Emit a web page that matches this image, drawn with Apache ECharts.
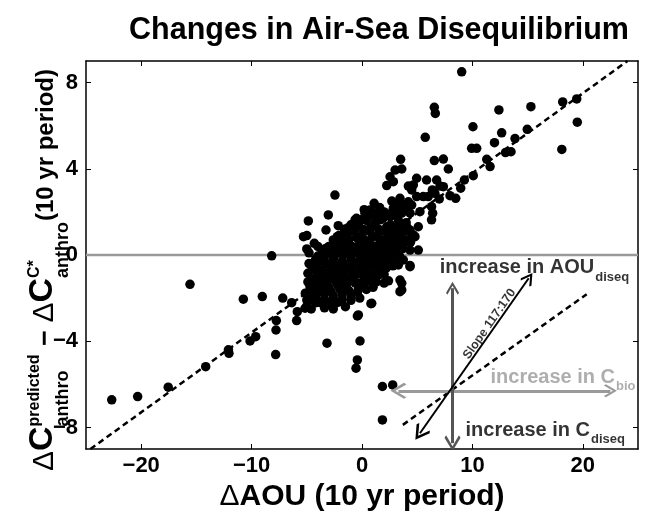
<!DOCTYPE html>
<html>
<head>
<meta charset="utf-8">
<script src="https://cdn.jsdelivr.net/npm/echarts@6/dist/echarts.min.js"></script>
<style>
  html, body { margin: 0; padding: 0; background: #fff; }
  #chart { width: 645px; height: 513px; }
</style>
</head>
<body>
<div id="chart"></div>
<script>
const FONT = '"Liberation Sans", Arial, Helvetica, sans-serif';

// axis ranges and tick labels
const xRange = [-25, 25];
const yRange = [-9, 9];
const xTicks = [-20, -10, 0, 10, 20];
const yTicks = [-8, -4, 0, 4, 8];

// profiles away from the central cloud: [ΔAOU, ΔC_pred − ΔC*]
const outerPoints = [
  [9.03, 8.50], [6.55, 6.85], [6.64, 6.57], [19.45, 7.24], [18.18, 7.10], [15.3, 6.88], [12.4, 6.73],
  [19.5, 6.16], [18.1, 4.9], [10.05, 5.95], [5.73, 5.46], [14.97, 5.83], [12.65, 5.67], [13.86, 5.40],
  [12.0, 5.21], [9.93, 4.95], [10.39, 4.95], [13.5, 4.79], [13.0, 4.75], [11.3, 4.44], [11.6, 4.10],
  [7.37, 4.45], [6.55, 4.38], [7.82, 3.99], [3.5, 4.44], [3.6, 3.99], [3.0, 3.94], [2.54, 3.63],
  [2.84, 3.40], [2.24, 3.22], [10.08, 3.68], [9.27, 3.48], [8.94, 3.1], [8.49, 2.63], [7.97, 2.75],
  [7.0, 2.6], [4.95, 3.56], [5.85, 3.48], [6.76, 3.48], [7.07, 3.2], [4.2, 3.2], [4.65, 3.25],
  [4.5, 3.02], [6.37, 3.02], [7.37, 3.17], [6.6, 2.86], [4.95, 2.71], [5.55, 2.71], [6.0, 2.71],
  [6.3, 2.24], [6.4, 1.94], [6.3, 1.63], [4.5, 2.32], [4.2, 2.47], [3.44, 2.63], [3.9, 2.24],
  [3.6, 1.94], [5.25, 2.01], [5.1, 1.31], [4.65, 0.93], [4.2, 0.7], [5.1, 0.23], [2.84, 2.17],
  [2.54, 1.78], [2.24, 1.31], [3.0, 1.0], [1.63, 1.63], [1.33, 1.94], [0.72, 2.09], [0.27, 1.94],
  [-0.18, 1.63], [-0.63, 1.63], [-2.45, 2.78], [-3.05, 1.86], [-2.15, 1.36], [-3.26, 1.16],
  [-2.24, 0.85], [-4.86, 1.58], [-5.3, 0.85], [-5.0, 0.9], [-4.32, 0.54], [-1.24, 0.62], [-5.0, 0.28],
  [-8.18, -0.04], [-15.58, -1.36], [-22.67, -6.72], [-20.32, -6.57], [-17.55, -6.13], [-14.16, -5.18],
  [-12.1, -4.4], [-12.05, -4.56], [-10.14, -3.99], [-9.63, -3.79], [-7.82, -4.62], [-7.79, -3.48],
  [-7.76, -3.04], [-5.92, -3.04], [-5.86, -2.63], [-10.75, -2.05], [-9.03, -1.93], [-7.18, -2.0],
  [-6.37, -2.21], [-5.0, -2.4], [-5.0, -2.09], [-5.13, -1.77], [-4.71, -1.47], [-4.41, -1.31],
  [-4.08, -1.77], [-4.05, -2.19], [-4.17, -2.21], [-3.17, -4.09], [-0.42, -2.83], [-0.18, -3.99],
  [-0.42, -4.87], [-0.54, -5.25], [0.81, -2.26], [1.85, -6.1], [2.78, -6.03], [1.85, -7.65],
  [3.44, -1.7], [3.6, -1.31], [4.35, -0.49], [3.29, -0.46], [3.74, -0.23], [2.84, -0.08],
  [2.24, -0.08], [1.93, -0.23], [4.35, 0.23], [3.44, 2.4], [4.05, 2.24], [4.35, 1.94], [4.05, 1.31],
  [4.35, 1.16], [4.8, 0.85], [3.44, -1.16], [3.6, -1.62], [4.35, -0.54], [0.88, -2.24], [-0.33, -2.78],
  [-5.0, -1.77], [-5.16, -2.47], [-4.71, -2.09]
];

// the dense cloud of profiles near the origin
const corePoints = [
  [0.2, 2.1], [0.9, 2.0], [1.6, 2.2], [2.3, 1.9], [3.1, 2.2], [2.7, 2.5], [1.1, 2.4], [-0.5, 1.7],
  [-1.0, 1.4], [-0.3, 1.5], [0.4, 1.6], [1.2, 1.5], [1.9, 1.7], [2.6, 1.4], [3.3, 1.6], [4.0, 1.5], [-1.6, 1.2],
  [-2.1, 0.9], [-1.4, 1.0], [-0.7, 1.1], [0.0, 0.9], [0.7, 1.1], [1.4, 0.9], [2.1, 1.1], [2.8, 1.0], [3.5, 0.9], [4.2, 1.1],
  [-3.0, 0.4], [-2.3, 0.5], [-1.6, 0.6], [-0.9, 0.4], [-0.2, 0.6], [0.5, 0.5], [1.2, 0.4], [1.9, 0.6], [2.6, 0.5], [3.3, 0.4], [3.9, 0.6],
  [-3.6, 0.1], [-2.8, 0.2], [-2.0, 0.1], [-1.2, 0.2], [-0.5, 0.1], [0.3, 0.2], [1.0, 0.2], [1.7, 0.1], [2.4, 0.2], [3.1, 0.1], [3.7, 0.3],
  [-4.2, -0.2], [-3.4, -0.3], [-2.6, -0.2], [-1.8, -0.3], [-1.0, -0.2], [-0.3, -0.3], [0.4, -0.2], [1.1, -0.3], [1.8, -0.2], [2.5, -0.3], [3.0, -0.1],
  [-4.5, -0.6], [-3.7, -0.7], [-2.9, -0.6], [-2.1, -0.7], [-1.3, -0.6], [-0.6, -0.7], [0.1, -0.6], [0.8, -0.5], [1.5, -0.7], [2.2, -0.6],
  [-4.4, -1.1], [-3.6, -1.0], [-2.8, -1.1], [-2.0, -1.0], [-1.2, -1.1], [-0.5, -0.9], [0.2, -1.0], [0.9, -1.1], [1.6, -0.9], [2.4, -1.2],
  [-4.6, -1.5], [-3.8, -1.4], [-3.0, -1.5], [-2.2, -1.4], [-1.4, -1.5], [-0.6, -1.3], [0.1, -1.4], [1.0, -1.5],
  [-4.2, -1.9], [-3.4, -1.8], [-2.6, -1.9], [-1.8, -1.8], [-1.0, -1.9], [-0.4, -1.7],
  [-3.8, -2.2], [-3.0, -2.3], [-2.2, -2.2], [-1.5, -2.4],
  [0.6, 1.8], [1.3, 1.75], [2.0, 2.0], [2.9, 1.85], [3.6, 2.05],
  [-1.3, 1.25], [-0.6, 1.3], [0.1, 1.2], [0.8, 1.3], [1.5, 1.2], [2.3, 1.3], [3.0, 1.25], [3.7, 1.2],
  [-2.6, 0.7], [-1.9, 0.8], [-1.2, 0.75], [-0.5, 0.8], [0.2, 0.7], [0.9, 0.8], [1.6, 0.75], [2.3, 0.8], [3.0, 0.7], [3.7, 0.75], [4.4, 0.6],
  [-4.0, 0.4], [-3.3, 0.3], [-2.6, 0.35], [-1.9, 0.3], [-1.2, 0.4], [-0.5, 0.35], [0.2, 0.3], [0.9, 0.4], [1.6, 0.3], [2.3, 0.4], [3.0, 0.35], [3.6, 0.5],
  [-4.8, 0.1], [-4.0, -0.05], [-3.3, 0.0], [-2.5, -0.05], [-1.7, 0.0], [-1.0, -0.05], [-0.2, 0.0], [0.6, -0.05], [1.4, 0.0], [2.1, -0.05], [2.8, 0.0], [3.4, -0.05],
  [-4.8, -0.4], [-4.1, -0.45], [-3.3, -0.4], [-2.5, -0.45], [-1.7, -0.4], [-0.9, -0.45], [-0.1, -0.4], [0.7, -0.4], [1.4, -0.45], [2.0, -0.4], [2.8, -0.5],
  [-4.9, -0.85], [-4.1, -0.8], [-3.3, -0.85], [-2.5, -0.8], [-1.7, -0.85], [-0.9, -0.8], [-0.1, -0.85], [0.6, -0.8], [1.3, -0.85], [2.0, -0.9],
  [-4.9, -1.25], [-4.0, -1.2], [-3.2, -1.3], [-2.4, -1.2], [-1.6, -1.3], [-0.9, -1.2], [-0.2, -1.3], [0.5, -1.2], [1.3, -1.25], [2.0, -1.3],
  [-4.4, -1.65], [-3.6, -1.6], [-2.8, -1.7], [-2.0, -1.6], [-1.2, -1.65], [-0.3, -1.55], [0.4, -1.6],
  [-4.5, -2.0], [-3.4, -2.05], [-2.6, -2.1], [-1.8, -2.05], [-1.0, -2.1], [-0.2, -2.0],
  [-4.6, -2.5], [-3.4, -2.45], [-2.6, -2.5]
];

// regression line and reference lines
const fitLine = [[-24.6, -9.0], [24.05, 9.0]];
const zeroLine = [[-25, 0], [25, 0]];
const diseqLine = [[3.7, -7.88], [20.35, -1.82]];

// process vectors
const aouArrow = [[5.25, -8.27], [15.1, -1.08]];
const cDiseqArrow = [[8.2, -8.73], [8.2, -1.54]];
const cBioArrow = [[3.3, -6.3], [22.5, -6.3]];

// annotation anchors
const aouLabelAt = [7.0, -0.6];
const bioLabelAt = [11.6, -5.7];
const diseqLabelAt = [9.33, -8.16];
const slopeLabelAt = [11.55, -3.2];

const minus = v => String(v).replace('-', '\u2212');
const chevron = 'path://M0,0 L10,11 L8,13 L0,4 L-8,13 L-10,11 Z';

const chart = echarts.init(document.getElementById('chart'), null, { renderer: 'canvas' });

// y axis title, built from pieces so sub/superscripts can stack
const measureCtx = document.createElement('canvas').getContext('2d');
const textWidth = (font, s) => { measureCtx.font = font; return measureCtx.measureText(s).width; };
const deltaFont = `30px ${FONT}`;
const capFont = `bold 34px ${FONT}`;
const dashFont = `bold 27px ${FONT}`;
const unitFont = `bold 24px ${FONT}`;
const supFont = `bold 16px ${FONT}`;
const subFont = `bold 18px ${FONT}`;
const sizeOf = font => parseFloat(font.match(/(\d+(\.\d+)?)px/)[1]);
const yTitle = [];
let cursor = 0;
// baseline is measured across the rotated text: negative = towards the top of the glyphs
function put(text, font, baseline, advance) {
  yTitle.push({
    type: 'text', x: cursor, y: baseline - 0.35 * sizeOf(font),
    style: { text, font, fill: '#000', align: 'left', verticalAlign: 'middle', textAlign: 'left', textVerticalAlign: 'middle' }
  });
  if (advance) cursor += textWidth(font, text);
}
function stack(sup, sub) {
  const start = cursor;
  put(sup, supFont, -15, false);
  put(sub, subFont, 14, false);
  cursor = start + Math.max(textWidth(supFont, sup), textWidth(subFont, sub)) + 1;
}
put('\u0394', deltaFont, 0, true);
put('C', capFont, 0, true);
stack('predicted', 'anthro');
put(' \u2212 ', dashFont, 0, true);
put('\u0394', deltaFont, 0, true);
put('C', capFont, 0, true);
stack('C*', 'anthro');
put('(10 yr period)', unitFont, 0, true);

function textPoint(at, formatter, rich, extra) {
  return {
    type: 'scatter', data: [at], symbolSize: 1, z: 6, silent: true,
    itemStyle: { color: 'rgba(0,0,0,0)' },
    emphasis: { disabled: true },
    label: Object.assign({ show: true, position: 'right', distance: 0, formatter, rich }, extra || {})
  };
}

const mainStyle = (color) => ({ fontSize: 20, fontWeight: 'bold', fontFamily: FONT, color });
const subStyle = (color) => ({ fontSize: 13, fontWeight: 'bold', fontFamily: FONT, color, padding: [18, 0, 0, 1] });

const axisCommon = {
  type: 'value',
  axisLine: { show: true, onZero: false, lineStyle: { color: '#000', width: 1.5 } },
  splitLine: { show: false }
};

const option = {
  animation: false,
  backgroundColor: '#fff',
  grid: { left: 86, top: 61, width: 552, height: 388, containLabel: false, outerBoundsMode: 'none' },
  xAxis: [
    Object.assign({}, axisCommon, {
      min: xRange[0], max: xRange[1], position: 'bottom',
      axisTick: { show: true, inside: true, length: 5, customValues: xTicks, lineStyle: { color: '#000', width: 1 } },
      axisLabel: { customValues: xTicks, formatter: minus, fontSize: 22, fontWeight: 'bold', fontFamily: FONT, color: '#000', margin: 6 },
      name: '{d|\u0394}{b|AOU (10 yr period)}',
      nameLocation: 'middle', nameGap: 17,
      nameTextStyle: {
        rich: {
          d: { fontSize: 30, fontFamily: FONT, color: '#000' },
          b: { fontSize: 30, fontWeight: 'bold', fontFamily: FONT, color: '#000' }
        }
      }
    }),
    Object.assign({}, axisCommon, {
      min: xRange[0], max: xRange[1], position: 'top',
      axisTick: { show: true, inside: true, length: 5, customValues: xTicks, lineStyle: { color: '#000', width: 1 } },
      axisLabel: { show: false }
    })
  ],
  yAxis: [
    Object.assign({}, axisCommon, {
      min: yRange[0], max: yRange[1], position: 'left',
      axisTick: { show: true, inside: true, length: 5, customValues: yTicks, lineStyle: { color: '#000', width: 1 } },
      axisLabel: { customValues: yTicks, formatter: minus, fontSize: 22, fontWeight: 'bold', fontFamily: FONT, color: '#000', margin: 8 }
    }),
    Object.assign({}, axisCommon, {
      min: yRange[0], max: yRange[1], position: 'right',
      axisTick: { show: true, inside: true, length: 5, customValues: yTicks, lineStyle: { color: '#000', width: 1 } },
      axisLabel: { show: false }
    })
  ],
  graphic: [
    {
      type: 'text', x: 379, y: 31, z: 10,
      style: { text: 'Changes in Air-Sea Disequilibrium', font: `bold 30.5px ${FONT}`, fill: '#000',
               align: 'center', verticalAlign: 'middle', textAlign: 'center', textVerticalAlign: 'middle' }
    },
    { type: 'group', x: 55, y: 471, rotation: Math.PI / 2, children: yTitle }
  ],
  series: [
    {
      type: 'line', data: zeroLine, symbol: 'none', silent: true, z: 1,
      lineStyle: { color: '#9a9a9a', width: 2.5 }
    },
    {
      type: 'scatter', data: outerPoints.concat(corePoints), symbol: 'circle', symbolSize: 9.5, z: 2, silent: true,
      itemStyle: { color: '#000', opacity: 1 }
    },
    {
      type: 'line', data: fitLine, symbol: 'none', silent: true, z: 3,
      lineStyle: { color: '#000', width: 2.5, type: [6, 4] }
    },
    {
      type: 'line', data: diseqLine, symbol: 'none', silent: true, z: 3,
      lineStyle: { color: '#000', width: 2.5, type: [6, 4] }
    },
    {
      type: 'lines', coordinateSystem: 'cartesian2d', silent: true, z: 4,
      symbol: [chevron, chevron], symbolSize: [16, 13],
      data: [
        { coords: cBioArrow, lineStyle: { color: '#9a9a9a', width: 3, opacity: 1 } },
        { coords: cDiseqArrow, lineStyle: { color: '#555', width: 3, opacity: 1 } },
        { coords: aouArrow, lineStyle: { color: '#000', width: 2, opacity: 1 } }
      ]
    },
    textPoint(aouLabelAt, '{m|increase in AOU}{s|diseq}', { m: mainStyle('#000'), s: subStyle('#000') }),
    textPoint(bioLabelAt, '{m|increase in C}{s|bio}', { m: mainStyle('#9a9a9a'), s: subStyle('#9a9a9a') }),
    textPoint(diseqLabelAt, '{m|increase in C}{s|diseq}', { m: mainStyle('#000'), s: subStyle('#000') }),
    textPoint(slopeLabelAt, 'Slope 117:170', null, {
      position: 'inside', rotate: 55, fontSize: 12.5, fontWeight: 'bold', fontFamily: FONT, color: '#000'
    })
  ]
};

chart.setOption(option);
</script>
</body>
</html>
